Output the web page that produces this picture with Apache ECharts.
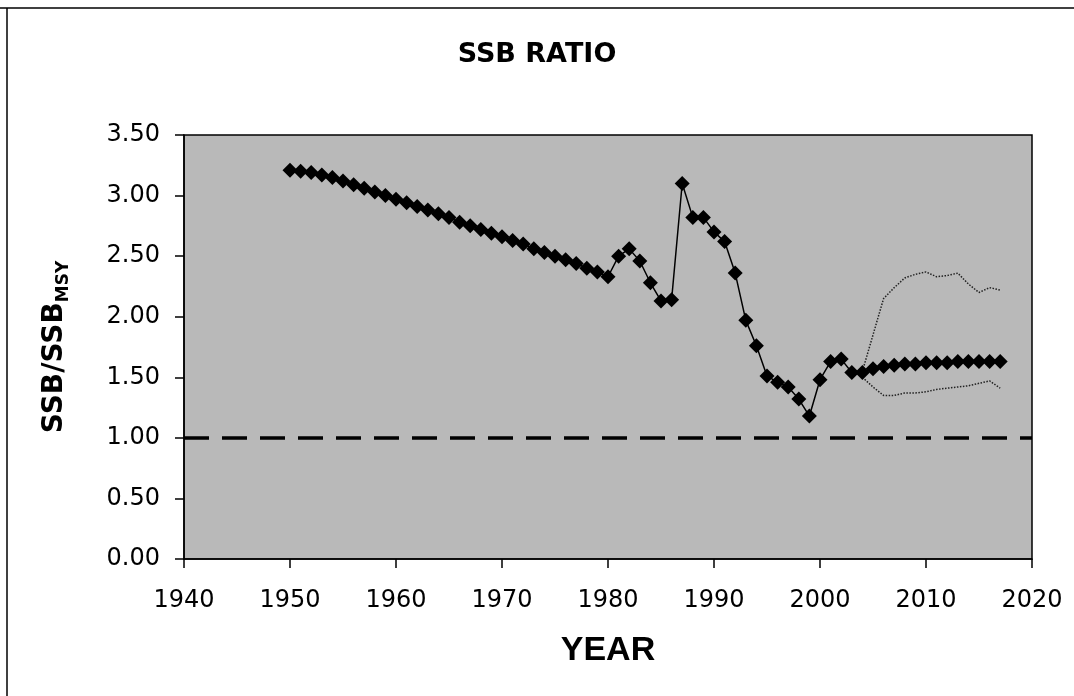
<!DOCTYPE html>
<html>
<head>
<meta charset="utf-8">
<script src="https://cdn.jsdelivr.net/npm/echarts@6/dist/echarts.min.js"></script>
<style>
  html, body { margin: 0; padding: 0; background: #fff; }
  #container { width: 1074px; height: 696px; }
</style>
</head>
<body>
<div id="container"></div>
<script>
// SSB / SSBmsy
var years = [1950, 1951, 1952, 1953, 1954, 1955, 1956, 1957, 1958, 1959,
  1960, 1961, 1962, 1963, 1964, 1965, 1966, 1967, 1968, 1969,
  1970, 1971, 1972, 1973, 1974, 1975, 1976, 1977, 1978, 1979,
  1980, 1981, 1982, 1983, 1984, 1985, 1986, 1987, 1988, 1989,
  1990, 1991, 1992, 1993, 1994, 1995, 1996, 1997, 1998, 1999,
  2000, 2001, 2002, 2003, 2004, 2005, 2006, 2007, 2008, 2009,
  2010, 2011, 2012, 2013, 2014, 2015, 2016, 2017];
var ssbRatio = [3.21, 3.20, 3.19, 3.17, 3.15, 3.12, 3.09, 3.06, 3.03, 3.00,
  2.97, 2.94, 2.91, 2.88, 2.85, 2.82, 2.78, 2.75, 2.72, 2.69,
  2.66, 2.63, 2.60, 2.56, 2.53, 2.50, 2.47, 2.44, 2.40, 2.37,
  2.33, 2.50, 2.56, 2.46, 2.28, 2.13, 2.14, 3.10, 2.82, 2.82,
  2.70, 2.62, 2.36, 1.97, 1.76, 1.51, 1.46, 1.42, 1.32, 1.18,
  1.48, 1.63, 1.65, 1.54, 1.54, 1.57, 1.59, 1.60, 1.61, 1.61,
  1.62, 1.62, 1.62, 1.63, 1.63, 1.63, 1.63, 1.63];

// projection bounds (dotted)
var projYears = [2004, 2005, 2006, 2007, 2008, 2009, 2010, 2011, 2012, 2013, 2014, 2015, 2016, 2017];
var upperBound = [1.55, 1.85, 2.15, 2.24, 2.32, 2.35, 2.37, 2.33, 2.34, 2.36, 2.27, 2.20, 2.24, 2.22];
var lowerBound = [1.50, 1.42, 1.35, 1.35, 1.37, 1.37, 1.38, 1.40, 1.41, 1.42, 1.43, 1.45, 1.47, 1.41];

var refLevel = 1.0;

function pairs(xs, ys) {
  return xs.map(function (x, i) { return [x, ys[i]]; });
}

var chart = echarts.init(document.getElementById('container'));
var tickFont = { fontFamily: 'DejaVu Sans', fontSize: 24, color: '#000' };

var option = {
  backgroundColor: '#fff',
  animation: false,
  title: {
    text: 'SSB RATIO',
    left: 'center',
    top: 36,
    textStyle: { fontFamily: 'DejaVu Sans', fontWeight: 'bold', fontSize: 27, color: '#000' }
  },
  graphic: [
    { type: 'line', shape: { x1: 0, y1: 8, x2: 1074, y2: 8 }, style: { stroke: '#000', lineWidth: 1.5 } },
    { type: 'line', shape: { x1: 7, y1: 8, x2: 7, y2: 696 }, style: { stroke: '#000', lineWidth: 1.5 } }
  ],
  grid: {
    left: 184, right: 42, top: 135, bottom: 137,
    show: true,
    backgroundColor: '#b9b9b9',
    borderColor: '#000',
    borderWidth: 1.5
  },
  xAxis: {
    type: 'value',
    min: 1940, max: 2020, interval: 10,
    name: 'YEAR',
    nameLocation: 'middle',
    nameGap: 75,
    nameTextStyle: { fontFamily: 'Liberation Sans', fontWeight: 'bold', fontSize: 34, color: '#000' },
    axisLine: { lineStyle: { color: '#000', width: 1.5 } },
    axisTick: { inside: false, length: 9, lineStyle: { color: '#000', width: 1.5 } },
    axisLabel: Object.assign({
      margin: 30,
      formatter: function (v) { return String(v); }
    }, tickFont),
    splitLine: { show: false }
  },
  yAxis: {
    type: 'value',
    min: 0, max: 3.5, interval: 0.5,
    name: 'SSB/SSB{sub|MSY}',
    nameLocation: 'middle',
    nameRotate: 90,
    nameGap: 112,
    nameTextStyle: {
      fontFamily: 'DejaVu Sans', fontWeight: 'bold', fontSize: 28, color: '#000',
      rich: {
        sub: { fontFamily: 'DejaVu Sans', fontWeight: 'bold', fontSize: 17, color: '#000', padding: [18, 0, 0, 0] }
      }
    },
    axisLine: { show: true, lineStyle: { color: '#000', width: 1.5 } },
    axisTick: { show: true, inside: false, length: 9, lineStyle: { color: '#000', width: 1.5 } },
    axisLabel: Object.assign({
      margin: 24,
      formatter: function (v) { return v.toFixed(2); }
    }, tickFont),
    splitLine: { show: false }
  },
  series: [
    {
      name: 'upper',
      type: 'line',
      data: pairs(projYears, upperBound),
      symbol: 'none',
      lineStyle: { color: '#222', width: 1.5, type: 'dotted' },
      z: 2
    },
    {
      name: 'lower',
      type: 'line',
      data: pairs(projYears, lowerBound),
      symbol: 'none',
      lineStyle: { color: '#222', width: 1.5, type: 'dotted' },
      z: 2
    },
    {
      name: 'SSB ratio',
      type: 'line',
      data: pairs(years, ssbRatio),
      symbol: 'diamond',
      symbolSize: 15,
      itemStyle: { color: '#000' },
      lineStyle: { color: '#000', width: 1.5 },
      markLine: {
        silent: true,
        symbol: 'none',
        label: { show: false },
        lineStyle: { color: '#000', width: 3.5, type: [25, 13] },
        data: [{ yAxis: refLevel }]
      },
      z: 3
    }
  ]
};
chart.setOption(option);
</script>
</body>
</html>
